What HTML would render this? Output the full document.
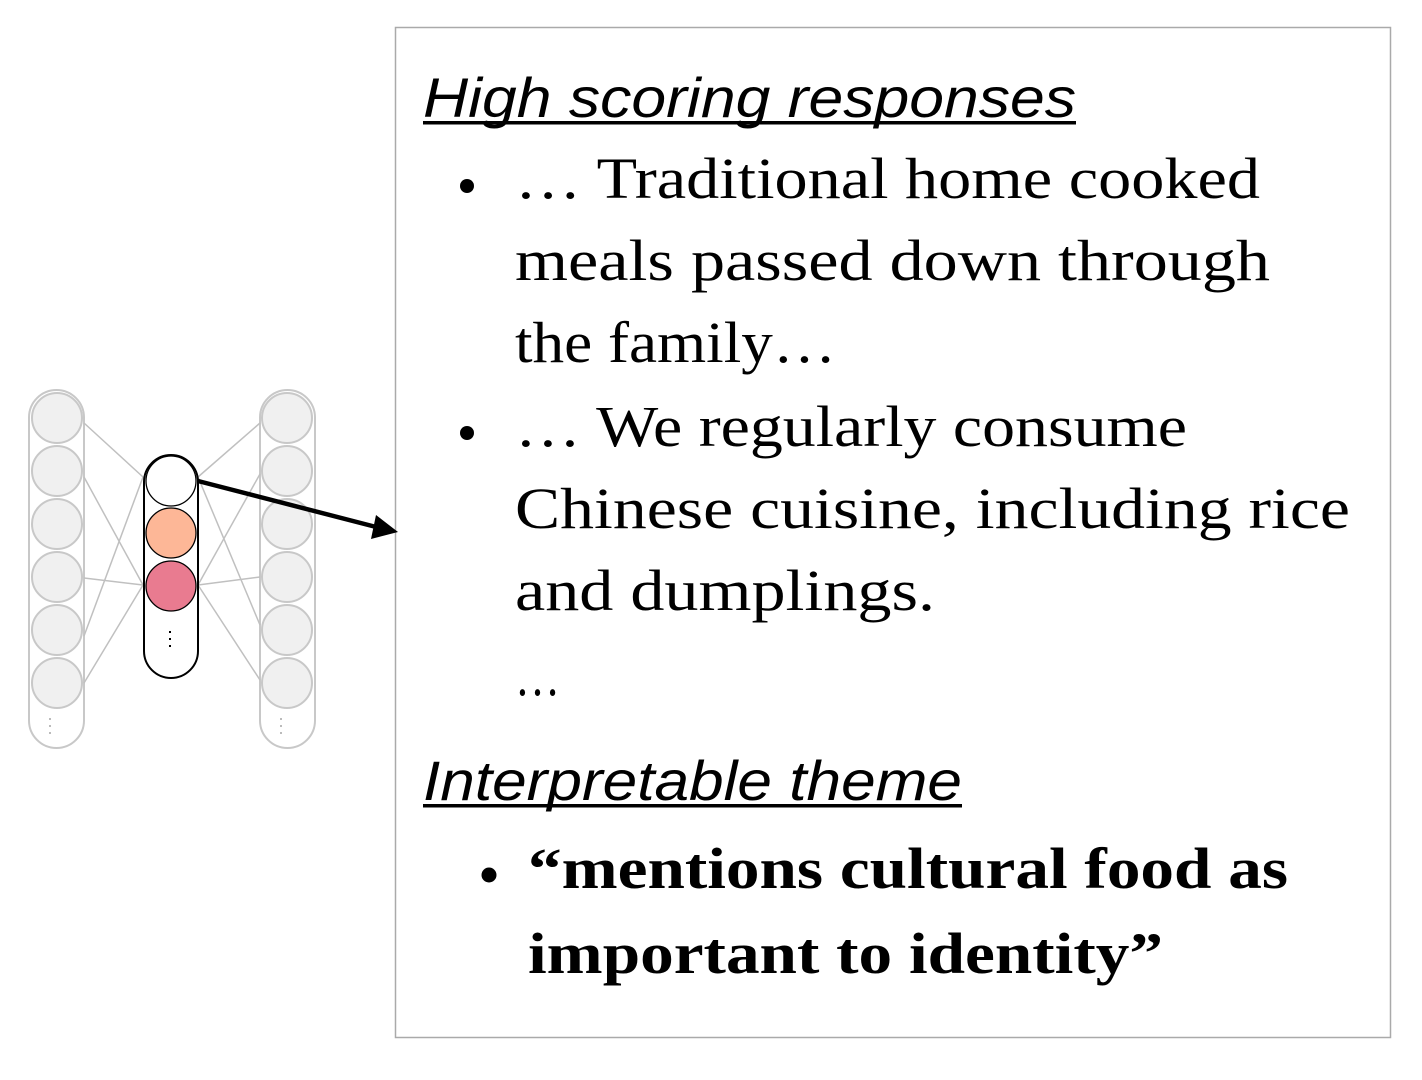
<!DOCTYPE html>
<html><head><style>html,body{margin:0;padding:0;background:#fff;}svg{display:block}</style></head>
<body>
<svg width="1422" height="1080" viewBox="0 0 1422 1080" xmlns="http://www.w3.org/2000/svg">
<rect x="395.5" y="27.5" width="995" height="1010" fill="#fff" stroke="#aaa" stroke-width="1.5"/>
<g stroke="#c8c8c8" stroke-width="2" fill="#f0f0f0">
<rect x="29" y="390" width="55" height="358" rx="27.5" fill="#fff"/>
<rect x="260" y="390" width="55" height="358" rx="27.5" fill="#fff"/>
<circle cx="57" cy="418" r="25"/><circle cx="57" cy="471" r="25"/><circle cx="57" cy="524" r="25"/><circle cx="57" cy="577" r="25"/><circle cx="57" cy="630" r="25"/><circle cx="57" cy="683" r="25"/>
<circle cx="287" cy="418" r="25"/><circle cx="287" cy="471" r="25"/><circle cx="287" cy="524" r="25"/><circle cx="287" cy="577" r="25"/><circle cx="287" cy="630" r="25"/><circle cx="287" cy="683" r="25"/>
</g>
<g stroke="#c0c0c0" stroke-width="1.5">
<line x1="84" y1="423" x2="143" y2="477"/><line x1="84" y1="477" x2="143" y2="585"/><line x1="84" y1="578" x2="143" y2="585"/><line x1="84" y1="636" x2="143" y2="477"/><line x1="84" y1="683" x2="143" y2="585"/>
<line x1="198" y1="477" x2="260" y2="423"/><line x1="198" y1="477" x2="260" y2="625"/><line x1="198" y1="585" x2="260" y2="474"/><line x1="198" y1="585" x2="260" y2="577"/><line x1="198" y1="585" x2="260" y2="680"/>
</g>
<g fill="#bbb"><rect x="49" y="718" width="2" height="2"/><rect x="49" y="725" width="2" height="2"/><rect x="49" y="732" width="2" height="2"/>
<rect x="280" y="718" width="2" height="2"/><rect x="280" y="725" width="2" height="2"/><rect x="280" y="732" width="2" height="2"/></g>
<rect x="144" y="455" width="54" height="223" rx="27" fill="#fff" stroke="#000" stroke-width="2"/>
<circle cx="171" cy="481" r="25" fill="#fff" stroke="#000" stroke-width="1.3"/>
<circle cx="171" cy="533" r="25" fill="#fdb797" stroke="#000" stroke-width="1.3"/>
<circle cx="171" cy="586" r="25" fill="#e97b90" stroke="#000" stroke-width="1.3"/>
<g fill="#000"><rect x="169" y="631" width="2" height="2"/><rect x="169" y="638" width="2" height="2"/><rect x="169" y="645" width="2" height="2"/></g>
<line x1="198" y1="481" x2="380" y2="528" stroke="#000" stroke-width="4.5"/>
<polygon points="398,532 376,515 371,539" fill="#000"/>
<g font-family="Liberation Sans, sans-serif" font-style="italic" font-size="56">
<text x="423" y="117" textLength="653" lengthAdjust="spacingAndGlyphs">High scoring responses</text>
<text x="423" y="800" textLength="539" lengthAdjust="spacingAndGlyphs">Interpretable theme</text>
</g>
<rect x="423" y="121" width="653" height="3.5" fill="#000"/>
<rect x="423" y="804" width="539" height="3.5" fill="#000"/>
<g font-family="Liberation Serif, serif" font-size="58">
<text x="515" y="198" textLength="745" lengthAdjust="spacingAndGlyphs">… Traditional home cooked</text>
<text x="515" y="280" textLength="755" lengthAdjust="spacingAndGlyphs">meals passed down through</text>
<text x="515" y="362" textLength="321" lengthAdjust="spacingAndGlyphs">the family…</text>
<text x="515" y="446" textLength="672" lengthAdjust="spacingAndGlyphs">… We regularly consume</text>
<text x="515" y="528" textLength="835" lengthAdjust="spacingAndGlyphs">Chinese cuisine, including rice</text>
<text x="515" y="610" textLength="420" lengthAdjust="spacingAndGlyphs">and dumplings.</text>
<text x="515" y="695" textLength="45" lengthAdjust="spacingAndGlyphs">…</text>
</g>
<g font-family="Liberation Serif, serif" font-size="58" font-weight="bold">
<text x="528" y="888" textLength="760" lengthAdjust="spacingAndGlyphs">“mentions cultural food as</text>
<text x="528" y="973" textLength="635" lengthAdjust="spacingAndGlyphs">important to identity”</text>
</g>
<circle cx="467" cy="186" r="7" fill="#000"/>
<circle cx="467" cy="433" r="7" fill="#000"/>
<circle cx="489" cy="875" r="7.5" fill="#000"/>
</svg>
</body></html>
